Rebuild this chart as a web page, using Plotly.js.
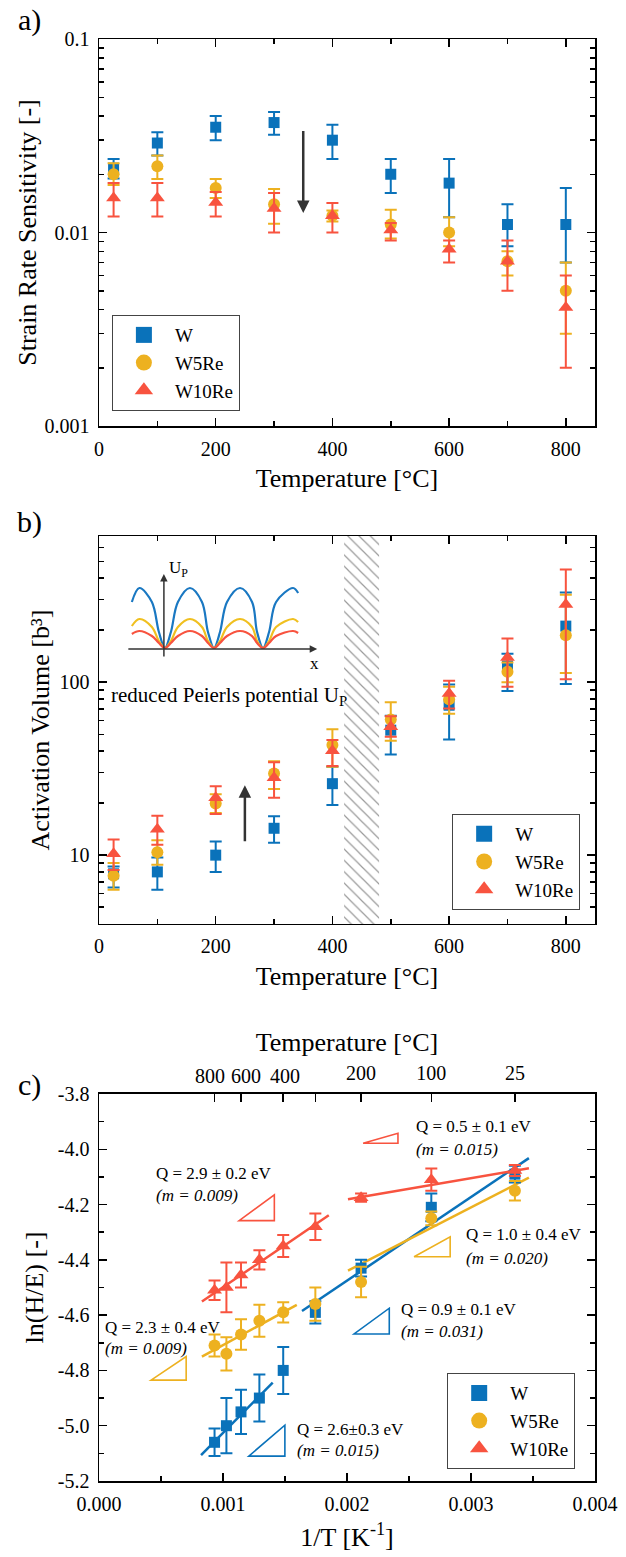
<!DOCTYPE html>
<html><head><meta charset="utf-8">
<script src="https://cdn.plot.ly/plotly-3.0.1.min.js"></script>
<style>html,body{margin:0;padding:0;background:#fff;}#chart{width:626px;height:1557px;}</style>
</head><body><div id="chart"></div>
<script>
// ---------- DATA ----------
const tempsAB = [25, 100, 200, 300, 400, 500, 600, 700, 800];
// Panel a: strain rate sensitivity
const srsW = [0.0215, 0.029, 0.035, 0.037, 0.030, 0.020, 0.018, 0.011, 0.011];
const srsW_hi = [0.024, 0.033, 0.040, 0.042, 0.036, 0.024, 0.024, 0.014, 0.017];
const srsW_lo = [0.019, 0.025, 0.030, 0.032, 0.024, 0.016, 0.012, 0.0085, 0.007];
const srsW5 = [0.020, 0.022, 0.017, 0.014, 0.0122, 0.011, 0.010, 0.0071, 0.005];
const srsW5_hi = [0.0228, 0.025, 0.0189, 0.0168, 0.013, 0.0131, 0.012, 0.0080, 0.0070];
const srsW5_lo = [0.0176, 0.0189, 0.0151, 0.0111, 0.0114, 0.0093, 0.0085, 0.0060, 0.0030];
const srsW10 = [0.0151, 0.0151, 0.0143, 0.0133, 0.0122, 0.0103, 0.0082, 0.0071, 0.0041];
const srsW10_hi = [0.018, 0.018, 0.0162, 0.016, 0.0142, 0.0112, 0.0091, 0.0091, 0.006];
const srsW10_lo = [0.0121, 0.0121, 0.0121, 0.010, 0.010, 0.0091, 0.007, 0.005, 0.002];
// Panel b: activation volume
const avW = [7.8, 8.0, 10.0, 14.3, 25.9, 52.8, 73.6, 124, 211];
const avW_hi = [8.6, 9.7, 12.0, 16.8, 32.4, 64, 97, 146, 330];
const avW_lo = [6.5, 6.3, 8.0, 11.8, 19.5, 38.2, 46.7, 89, 97.5];
const avW5 = [7.6, 10.4, 19.9, 29.7, 43.3, 60.8, 79.8, 115, 187];
const avW5_hi = [9.0, 12.2, 22.5, 34.9, 53.5, 76.6, 94, 130, 320];
const avW5_lo = [6.3, 8.8, 17.5, 24.1, 32.4, 45.8, 65.6, 100, 113];
const avW10 = [10.2, 14.1, 21.5, 28, 40.1, 55.2, 86, 139, 281];
const avW10_hi = [12.3, 16.9, 25, 34.4, 46.3, 63.5, 102, 179, 448];
const avW10_lo = [8.2, 11.5, 17.3, 21.5, 32.8, 48.3, 70.5, 94, 104];
const hatchT = [420, 480];
// Panel c: ln(H/E) vs 1/T
const tempsC = [800, 700, 600, 500, 400, 300, 200, 100, 25];
const lnW = [-5.06, -5.00, -4.95, -4.90, -4.80, -4.59, -4.43, -4.21, -4.09];
const lnW_err = [0.05, 0.10, 0.08, 0.085, 0.085, 0.04, 0.03, 0.05, 0.03];
const lnW5 = [-4.71, -4.74, -4.67, -4.62, -4.59, -4.56, -4.48, -4.25, -4.15];
const lnW5_err = [0.04, 0.06, 0.055, 0.058, 0.037, 0.06, 0.055, 0.025, 0.035];
const lnW10 = [-4.51, -4.50, -4.455, -4.40, -4.35, -4.28, -4.175, -4.11, -4.077];
const lnW10_err = [0.035, 0.09, 0.045, 0.035, 0.04, 0.048, 0.015, 0.04, 0.02];
// linear fits (end points)
const fitW_hiT_x = [0.000823, 0.001401], fitW_hiT_y = [-5.106, -4.844];
const fitW_loT_x = [0.001637, 0.003467], fitW_loT_y = [-4.585, -4.032];
const fitW5_hiT_x = [0.000830, 0.001595], fitW5_hiT_y = [-4.750, -4.563];
const fitW5_loT_x = [0.002008, 0.003467], fitW5_loT_y = [-4.439, -4.103];
const fitW10_hiT_x = [0.000830, 0.001853], fitW10_hiT_y = [-4.551, -4.239];
const fitW10_loT_x = [0.002008, 0.003467], fitW10_loT_y = [-4.181, -4.069];
// slope triangles [x0,x1,y0,y1]
const triW10a = [0.00113, 0.001414, -4.258, -4.165];
const triW10b = [0.002130, 0.002411, -3.978, -3.942];
const triW5a = [0.000420, 0.000703, -4.835, -4.750];
const triW5b = [0.002541, 0.002832, -4.389, -4.317];
const triWa = [0.001208, 0.001499, -5.110, -4.998];
const triWb = [0.002057, 0.002341, -4.668, -4.575];
const topTemps = [800, 600, 400, 300, 200, 100, 25];
const topLabels = ['800', '600', '400', '', '200', '100', '25'];
const topLabelShift = [-5, 5, 2, 0, 0, 0, 0];
const yTicksC = [-3.8, -4.0, -4.2, -4.4, -4.6, -4.8, -5.0, -5.2];
// Inset schematic (Peierls potential)
const insetX = [32, 39.5, 52, 59, 65, 71, 78, 90, 102, 108, 114, 120, 127, 140, 152, 157, 163, 169, 176, 193, 198];
const insetBlue = [68, 82, 68, 38, 22, 38, 68, 82, 68, 38, 22, 38, 68, 82, 68, 38, 22, 38, 68, 82, 77];
const insetYellow = [44, 51, 43, 29, 22, 29, 43, 51, 43, 29, 22, 29, 43, 51, 43, 29, 22, 29, 43, 51, 48];
const insetRed = [36, 39, 34, 27, 22, 27, 34, 39, 34, 27, 22, 27, 34, 39, 34, 27, 22, 27, 34, 39, 37];

// ---------- STYLE ----------
const FONT = "'Liberation Serif', 'Times New Roman', serif";
const C_W = '#0a72ba', C_W5 = '#edb120', C_W10 = '#f8533f';
const names = ['W', 'W5Re', 'W10Re'];
const colors = [C_W, C_W5, C_W10];
const symbols = ['square', 'circle', 'triangle-up'];
const sizes = [11, 12, 13];

const diff = (a, b) => a.map((v, i) => v - b[i]);
function series(k, x, y, hi, lo, xa, ya, symErr) {
  const err = symErr ? {type: 'data', array: symErr, color: colors[k], thickness: 2, width: 6}
    : {type: 'data', symmetric: false, array: diff(hi, y), arrayminus: diff(y, lo), color: colors[k], thickness: 2, width: 6};
  return {type: 'scatter', mode: 'markers', x: x, y: y, name: names[k], xaxis: xa, yaxis: ya, showlegend: false,
    marker: {symbol: symbols[k], size: sizes[k], color: colors[k]}, error_y: err, cliponaxis: false};
}
// legend entries (larger key symbols, as in the original legends)
function key(k, xa, ya, leg) {
  return {type: 'scatter', mode: 'markers', x: [null], y: [null], name: names[k], xaxis: xa, yaxis: ya, legend: leg,
    marker: {symbol: symbols[k], size: 16, color: colors[k]}, hoverinfo: 'skip'};
}
const invT = tempsC.map(t => 1 / (t + 273.15));

const traces = [];
traces.push({type: 'scatter', mode: 'lines', x: [hatchT[0], hatchT[1], hatchT[1], hatchT[0], hatchT[0]], y: [3, 3, 1000, 1000, 3],
  fill: 'toself', fillcolor: 'rgba(255,255,255,0)', line: {width: 0},
  fillpattern: {shape: '\\', fgcolor: '#9a9a9a', bgcolor: 'rgba(255,255,255,0)', size: 8, solidity: 0.15},
  xaxis: 'x2', yaxis: 'y2', showlegend: false, hoverinfo: 'skip'});

traces.push(series(0, tempsAB, srsW, srsW_hi, srsW_lo, 'x', 'y'));
traces.push(series(1, tempsAB, srsW5, srsW5_hi, srsW5_lo, 'x', 'y'));
traces.push(series(2, tempsAB, srsW10, srsW10_hi, srsW10_lo, 'x', 'y'));
traces.push(series(0, tempsAB, avW, avW_hi, avW_lo, 'x2', 'y2'));
traces.push(series(1, tempsAB, avW5, avW5_hi, avW5_lo, 'x2', 'y2'));
traces.push(series(2, tempsAB, avW10, avW10_hi, avW10_lo, 'x2', 'y2'));

function fit(x, y, k, xa) {
  return {type: 'scatter', mode: 'lines', x: x, y: y, xaxis: xa || 'x3', yaxis: 'y3', showlegend: false,
    line: {color: colors[k], width: 2.5}, hoverinfo: 'skip'};
}
traces.push(fit(fitW_hiT_x, fitW_hiT_y, 0));
traces.push(fit(fitW_loT_x, fitW_loT_y, 0));
traces.push(fit(fitW5_hiT_x, fitW5_hiT_y, 1));
traces.push(fit(fitW5_loT_x, fitW5_loT_y, 1));
traces.push(fit(fitW10_hiT_x, fitW10_hiT_y, 2));
traces.push(fit(fitW10_loT_x, fitW10_loT_y, 2, 'x4'));
traces.push(series(0, invT, lnW, null, null, 'x3', 'y3', lnW_err));
traces.push(series(1, invT, lnW5, null, null, 'x3', 'y3', lnW5_err));
traces.push(series(2, invT, lnW10, null, null, 'x3', 'y3', lnW10_err));

[[insetBlue, '#1a78c2'], [insetYellow, '#f0c020'], [insetRed, '#f8533f']].forEach(([yy, c]) => {
  traces.push({type: 'scatter', mode: 'lines', x: insetX, y: yy, xaxis: 'x5', yaxis: 'y5', showlegend: false,
    line: {color: c, width: 2.2, shape: 'spline', smoothing: 1.0}, hoverinfo: 'skip'});
});
[0, 1, 2].forEach(k => traces.push(key(k, 'x', 'y', 'legend')));
[0, 1, 2].forEach(k => traces.push(key(k, 'x2', 'y2', 'legend2')));
[0, 1, 2].forEach(k => traces.push(key(k, 'x3', 'y3', 'legend3')));

// ---------- LAYOUT ----------
function minorLog(lo, hi) {
  const v = [];
  for (let e = lo; e < hi; e++) for (let d = 2; d <= 9; d++) v.push(d * Math.pow(10, e));
  return v;
}
function axis(extra) {
  return Object.assign({showline: true, linecolor: '#000', linewidth: 1.5, mirror: 'ticks', ticks: 'inside', ticklen: 8,
    tickwidth: 1.5, tickcolor: '#000', showgrid: false, zeroline: false, ticklabelstandoff: 4, tickangle: 0,
    tickfont: {family: FONT, size: 20, color: '#000'}}, extra);
}
const titleFont = {family: FONT, size: 26, color: '#000'};
const dom = {a: [0.7316, 1], b: [0.3863, 0.6553], c: [0, 0.2684]};
const legFont = {family: FONT, size: 19, color: '#000'};
const topVals = topTemps.map(t => 1 / (t + 273.15));
const legBase = {xanchor: 'left', yanchor: 'bottom', bordercolor: '#444', borderwidth: 1, bgcolor: '#fff',
  font: legFont, tracegroupgap: 0, itemwidth: 52};

const layout = {
  width: 626, height: 1557,
  margin: {l: 99, r: 31, t: 39, b: 76},
  paper_bgcolor: '#fff', plot_bgcolor: 'rgba(0,0,0,0)',
  font: {family: FONT, color: '#000'},
  xaxis: axis({domain: [0, 1], anchor: 'y', range: [0, 850], tick0: 0, dtick: 200,
    minor: {dtick: 100, ticks: 'inside', ticklen: 5, tickwidth: 1.5, tickcolor: '#000'},
    title: {text: 'Temperature [°C]', font: titleFont, standoff: 10}}),
  yaxis: axis({domain: dom.a, anchor: 'x', type: 'log', range: [-3, -1], tickmode: 'array',
    tickvals: [0.001, 0.01, 0.1], ticktext: ['0.001', '0.01', '0.1'],
    minor: {tickmode: 'array', tickvals: minorLog(-3, -1), ticks: 'inside', ticklen: 5, tickwidth: 1.5, tickcolor: '#000'},
    title: {text: 'Strain Rate Sensitivity [-]', font: titleFont, standoff: 0}}),
  xaxis2: axis({domain: [0, 1], anchor: 'y2', range: [0, 850], tick0: 0, dtick: 200,
    minor: {dtick: 100, ticks: 'inside', ticklen: 5, tickwidth: 1.5, tickcolor: '#000'},
    title: {text: 'Temperature [°C]', font: titleFont, standoff: 10}}),
  yaxis2: axis({domain: dom.b, anchor: 'x2', type: 'log', range: [Math.log10(4), Math.log10(700)], tickmode: 'array',
    tickvals: [10, 100], ticktext: ['10', '100'],
    minor: {tickmode: 'array', tickvals: minorLog(0, 3), ticks: 'inside', ticklen: 5, tickwidth: 1.5, tickcolor: '#000'},
    title: {text: 'Activation Volume [b³]', font: titleFont, standoff: 2}}),
  xaxis3: axis({domain: [0, 1], anchor: 'y3', range: [0, 0.004], tick0: 0, dtick: 0.001, tickformat: '.3f', mirror: true,
    minor: {dtick: 0.0005, ticks: 'inside', ticklen: 5, tickwidth: 1.5, tickcolor: '#000'},
    title: {text: '1/T [K<sup>-1</sup>]', font: titleFont, standoff: 14}}),
  yaxis3: axis({domain: dom.c, anchor: 'x3', range: [-5.2, -3.8], tickmode: 'array', tickvals: yTicksC,
    ticktext: yTicksC.map(v => v.toFixed(1)),
    minor: {tickmode: 'array', tickvals: [-3.9, -4.1, -4.3, -4.5, -4.7, -4.9, -5.1], ticks: 'inside', ticklen: 5, tickwidth: 1.5, tickcolor: '#000'},
    title: {text: 'ln(H/E) [-]', font: titleFont, standoff: 6}}),
  xaxis4: axis({overlaying: 'x3', anchor: 'y3', side: 'top', range: [0, 0.004], mirror: false, tickmode: 'array',
    tickvals: topVals, ticktext: topLabels.map((s, i) => topLabelShift[i] === 0 ? s : ''), tickangle: 0,
    title: {text: 'Temperature [°C]', font: titleFont, standoff: 3}}),
  xaxis5: {domain: [0.0016, 0.5065], anchor: 'y5', range: [0, 250], visible: false, fixedrange: true},
  yaxis5: {domain: [0.5624, 0.6387], anchor: 'x5', range: [0, 110], visible: false, fixedrange: true},
  legend: Object.assign({x: 0.026, y: 0.742}, legBase),
  legend2: Object.assign({x: 0.712, y: 0.396}, legBase),
  legend3: Object.assign({x: 0.702, y: 0.0083}, legBase),
  shapes: [],
  annotations: []
};

// slope triangles
[[triW10a, C_W10], [triW10b, C_W10], [triW5a, C_W5], [triW5b, C_W5], [triWa, C_W], [triWb, C_W]].forEach(([t, c]) => {
  layout.shapes.push({type: 'path', xref: 'x3', yref: 'y3',
    path: `M ${t[0]},${t[2]} L ${t[1]},${t[2]} L ${t[1]},${t[3]} Z`, line: {color: c, width: 1.6}});
});

const A = layout.annotations;
const txt = (s, x, y, xr, yr, size, extra) => A.push(Object.assign({text: s, x: x, y: y, xref: xr, yref: yr, showarrow: false,
  xanchor: 'left', yanchor: 'middle', font: {family: FONT, size: size, color: '#000'}}, extra || {}));
// crowded top tick labels drawn with small offsets
topLabels.forEach((s, i) => {
  if (topLabelShift[i] !== 0) txt(s, topVals[i], -3.8, 'x4', 'y3', 20,
    {xanchor: 'center', yanchor: 'bottom', xshift: topLabelShift[i], yshift: 5});
});
// panel labels
txt('a)', -0.141, 1.0132, 'paper', 'paper', 30, {xanchor: 'center'});
txt('b)', -0.141, 0.665, 'paper', 'paper', 30, {xanchor: 'center'});
txt('c)', -0.141, 0.2746, 'paper', 'paper', 30, {xanchor: 'center'});
// arrows
A.push({x: 350, y: Math.log10(0.0126), ax: 350, ay: Math.log10(0.0341), xref: 'x', yref: 'y', axref: 'x', ayref: 'y',
  showarrow: true, arrowhead: 2, arrowsize: 1, arrowwidth: 2.5, arrowcolor: '#333', text: ''});
A.push({x: 250, y: Math.log10(25.4), ax: 250, ay: Math.log10(11.8), xref: 'x2', yref: 'y2', axref: 'x2', ayref: 'y2',
  showarrow: true, arrowhead: 2, arrowsize: 1, arrowwidth: 2.5, arrowcolor: '#333', text: ''});
// inset axes arrows + labels
A.push({x: 217, y: 21, ax: 27, ay: 21, xref: 'x5', yref: 'y5', axref: 'x5', ayref: 'y5', showarrow: true,
  arrowhead: 2, arrowsize: 1, arrowwidth: 1.5, arrowcolor: '#333', text: ''});
A.push({x: 64, y: 96, ax: 64, ay: 12, xref: 'x5', yref: 'y5', axref: 'x5', ayref: 'y5', showarrow: true,
  arrowhead: 2, arrowsize: 1, arrowwidth: 1.5, arrowcolor: '#333', text: ''});
txt('U<sub>P</sub>', 67, 101, 'x5', 'y5', 17);
txt('x', 208, 7, 'x5', 'y5', 17);
txt('reduced Peierls potential U<sub>P</sub>', 16.8, 1.921, 'x2', 'y2', 21);
// panel c texts
const qt = [
  ['Q = 0.5 ± 0.1 eV', '(m = 0.015)', 0.002541, -3.918, -4.0],
  ['Q = 2.9 ± 0.2 eV', '(m = 0.009)', 0.000442, -4.087, -4.169],
  ['Q = 1.0 ± 0.4 eV', '(m = 0.020)', 0.002944, -4.310, -4.394],
  ['Q = 0.9 ± 0.1 eV', '(m = 0.031)', 0.002418, -4.578, -4.66],
  ['Q = 2.3 ± 0.4 eV', '(m = 0.009)', 0.0000323, -4.644, -4.72],
  ['Q = 2.6±0.3 eV', '(m = 0.015)', 0.001582, -5.012, -5.09]
];
qt.forEach(q => {
  txt(q[0], q[2], q[3], 'x3', 'y3', 17);
  txt('<i>' + q[1] + '</i>', q[2], q[4], 'x3', 'y3', 17);
});

Plotly.newPlot('chart', traces, layout, {staticPlot: true, displayModeBar: false});
</script></body></html>
